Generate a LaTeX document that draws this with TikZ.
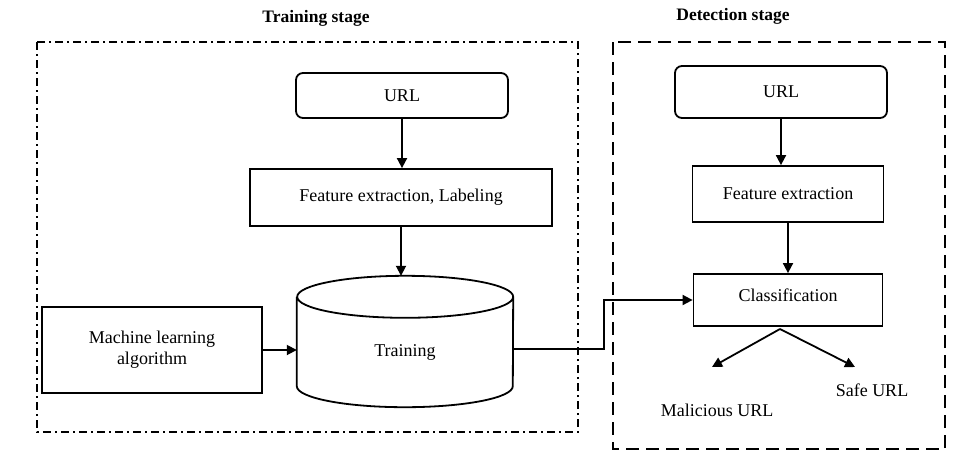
\documentclass[tikz,border=0pt]{standalone}
\usepackage{fontspec}
\setmainfont{Liberation Serif}
\usetikzlibrary{arrows.meta,calc}
\begin{document}
\begin{tikzpicture}[x=1pt,y=-1pt,
  every node/.style={font=\fontsize{18}{21}\selectfont},
  box/.style={draw,line width=1.8pt,inner sep=0pt,align=center},
  rbox/.style={box,rounded corners=7pt},
  arr/.style={line width=1.8pt,-{Triangle[length=10pt,width=10pt]}},
  lin/.style={line width=1.8pt},
  title/.style={font=\fontsize{17.5}{21}\selectfont\bfseries},
  dashdotbox/.style={line width=1.6pt,dash pattern=on 8pt off 4pt on 2pt off 4pt},
  dashbox/.style={line width=1.6pt,dash pattern=on 13pt off 7pt}]
\useasboundingbox (0,0) rectangle (975,456);
% stage frames
\draw[dashdotbox] (37,42) rectangle (578,432);
\draw[dashbox] (613,42) rectangle (945,449);
\node[title] (ttrain) at (316,18) {Training stage};
\node[title] (tdet) at (733,16) {Detection stage};
% training stage
\node[rbox,minimum width=212pt,minimum height=45pt] (urlt) at (402,95.5) {URL};
\node[box,minimum width=302pt,minimum height=57pt] (fet) at (401,197.5) {Feature extraction, Labeling};
\node[box,minimum width=220pt,minimum height=86pt] (ml) at (152,350) {Machine learning\\algorithm};
\node[inner sep=0pt,minimum width=216pt,minimum height=131pt] (cyl) at (405,341.5) {};
\draw[lin] ($(cyl.north west)+(0,21)$) -- ($(cyl.south west)+(0,-21)$)
  arc[start angle=180,end angle=360,x radius=108pt,y radius=21pt]
  -- ($(cyl.north east)+(0,21)$)
  arc[start angle=0,end angle=180,x radius=108pt,y radius=21pt]
  arc[start angle=180,end angle=360,x radius=108pt,y radius=21pt];
\node at ($(cyl.center)+(0,11)$) {Training};
\draw[arr] (urlt.south) -- (urlt.south |- fet.north);
\draw[arr] (fet.south) -- (fet.south |- cyl.north);
\draw[arr] (ml.east) -- (ml.east -| cyl.west);
% detection stage
\node[rbox,minimum width=212pt,minimum height=52pt] (urld) at (781,92) {URL};
\node[box,minimum width=191pt,minimum height=56pt] (fed) at (788,194) {Feature extraction};
\node[box,minimum width=189pt,minimum height=52pt] (cls) at (788,300) {\raisebox{9pt}{Classification}};
\draw[arr] (urld.south) -- (urld.south |- fed.north);
\draw[arr] (fed.south) -- (fed.south |- cls.north);
\draw[arr] ($(cyl.east)+(0,7.5)$) -- ++(91,0) |- (cls.west);
\coordinate (split) at (780,329);
\coordinate (mend) at (712,367);
\coordinate (send) at (855,367);
\draw[arr] (split) -- (mend);
\draw[arr] (split) -- (send);
\node (mal) at (717,410) {Malicious URL};
\node (safe) at (872,390) {Safe URL};
\end{tikzpicture}
\end{document}
